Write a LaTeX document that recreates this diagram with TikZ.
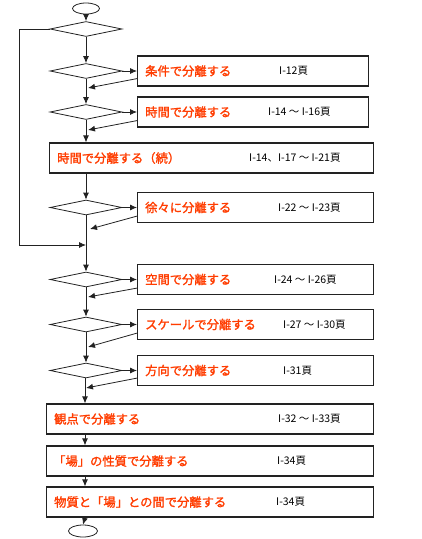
\documentclass[tikz,border=0pt]{standalone}
\usepackage{fontspec}
\setmainfont{Noto Sans CJK JP}
\newfontfamily\redfont[FakeBold=1.6]{Noto Sans CJK JP}
\usepackage{tikz}
\usetikzlibrary{shapes.geometric,arrows.meta,calc}

\definecolor{labelred}{HTML}{FF3C00}
\definecolor{linegray}{HTML}{222222}

\tikzset{
    arr/.style={draw=linegray, line width=0.8pt, -{Latex[length=7pt,width=6pt]}},
    decision/.style={diamond, draw=linegray, line width=0.8pt, minimum width=72pt, minimum height=15pt, inner sep=0pt},
    terminal/.style={ellipse, draw=linegray, line width=0.8pt, inner sep=0pt},
    box/.style={rectangle, draw=linegray, line width=1.2pt, minimum height=30pt, inner sep=0pt, anchor=west},
    redtxt/.style={text=labelred, font=\redfont\fontsize{12.3}{14}\selectfont, anchor=west, inner sep=0pt},
    pagetxt/.style={text=black, font=\fontsize{10.5}{12}\selectfont, anchor=west, inner sep=0pt}
}

\begin{document}
\begin{tikzpicture}[x=1pt, y=-1pt]
    \useasboundingbox (0,0) rectangle (422,539);

    % Start and first decision
    \node[terminal, minimum width=27pt, minimum height=11pt] (start) at (86,8.5) {};
    \node[decision] (d1) at (86,29) {};
    \draw[arr] (start) -- (d1.north);

    % Decisions with a side box
    \foreach \n/\y/\w/\lab/\px/\pg in {
        2/71/231/条件で分離する/279/{I-12頁},
        3/112/231/時間で分離する/268/{I-14 ～ I-16頁},
        4/207.5/236/徐々に分離する/278/{I-22 ～ I-23頁},
        5/279.5/236/空間で分離する/274/{I-24 ～ I-26頁},
        6/324.5/236/スケールで分離する/283/{I-27 ～ I-30頁},
        7/370.5/236/方向で分離する/283/{I-31頁}} {
        \node[decision] (d\n) at (86,\y) {};
        \node[box, minimum width=\w pt] (b\n) at (137,\y) {};
        \node[redtxt] (t\n) at (145,\y) {\lab};
        \node[pagetxt] (p\n) at (\px,\y) {\pg};
        \draw[arr] (d\n.east) -- (b\n.west);
    }

    % Return arrows from the side boxes
    \coordinate (r2) at (88,88);
    \coordinate (r3) at (88,130);
    \coordinate (r4) at (90,229);
    \coordinate (r5) at (88,297);
    \coordinate (r6) at (88,347);
    \coordinate (r7) at (86,388);
    \draw[arr] ($(b2.south west)+(0,-8)$) -- (r2);
    \draw[arr] ($(b3.south west)+(0,-7)$) -- (r3);
    \draw[arr] ($(b4.south west)+(0,-7)$) -- (r4);
    \draw[arr] ($(b5.south west)+(0,-7)$) -- (r5);
    \draw[arr] ($(b6.south west)+(0,-7)$) -- (r6);
    \draw[arr] ($(b7.south west)+(0,-8)$) -- (r7);

    % Wide boxes
    \node[box, minimum width=324pt] (b3x) at (49,158) {};
    \node[redtxt] (t3x) at (57,158) {時間で分離する（続）};
    \node[pagetxt] (p3x) at (249,158) {I-14、I-17 ～ I-21頁};
    \node[box, minimum width=327pt] (b8) at (46,419) {};
    \node[redtxt] (t8) at (54,419) {観点で分離する};
    \node[pagetxt] (p8) at (278,419) {I-32 ～ I-33頁};
    \node[box, minimum width=327pt] (b9) at (46,461) {};
    \node[redtxt] (t9) at (53,461) {「場」の性質で分離する};
    \node[pagetxt] (p9) at (277,461) {I-34頁};
    \node[box, minimum width=327pt] (b10) at (46,502) {};
    \node[redtxt] (t10) at (54,502) {物質と「場」との間で分離する};
    \node[pagetxt] (p10) at (276,502) {I-34頁};
    \node[terminal, minimum width=29pt, minimum height=12pt] (stop) at (83,531) {};

    % Main flow
    \coordinate (axis) at (85,378);
    \draw[arr] (d1.south) -- (d2.north);
    \draw[arr] (d2.south) -- (d3.north);
    \draw[arr] (d3.south) -- (d3.south |- b3x.north);
    \draw[arr] (d4.north |- b3x.south) -- (d4.north);
    \draw[arr] (d4.south) -- (d5.north);
    \draw[arr] (d5.south) -- (d6.north);
    \draw[arr] (d6.south) -- (d7.north);
    \draw[arr] (axis) -- (axis |- b8.north);
    \draw[arr] (axis |- b8.south) -- (axis |- b9.north);
    \draw[arr] (axis |- b9.south) -- (axis |- b10.north);
    \draw[arr] (axis |- b10.south) -- (stop.north);

    % Loop back from the first decision
    \coordinate (loop) at (86,245);
    \draw[arr] (d1.west) -- (19,29) -- (19,245) -- (loop);
\end{tikzpicture}
\end{document}
